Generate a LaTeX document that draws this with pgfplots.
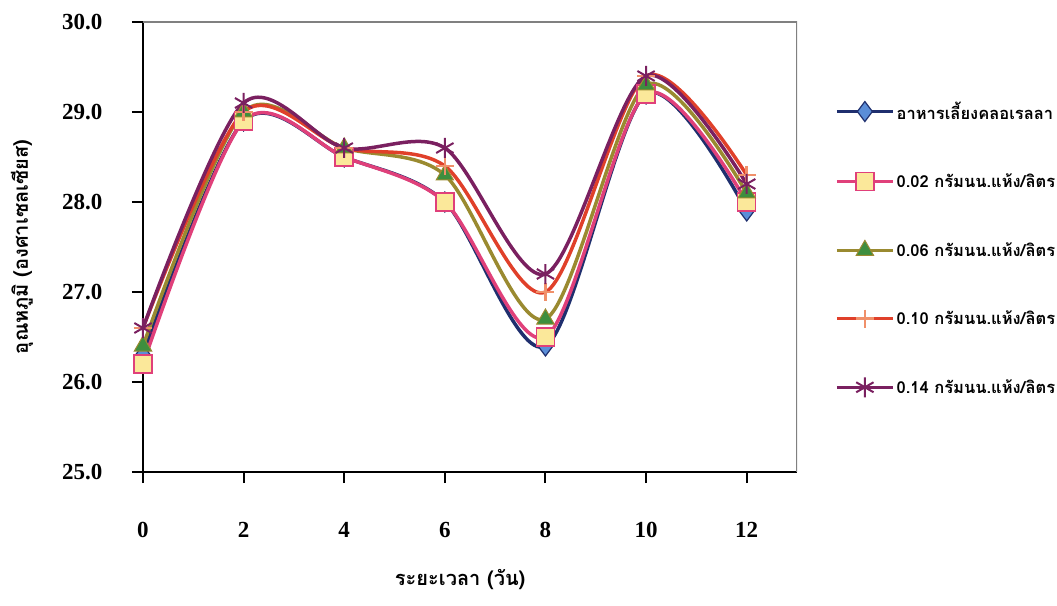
\documentclass[border=0pt]{standalone}
\usepackage{fontspec}
\setmainfont{Liberation Serif}
\newfontfamily\thaifont[Script=Thai]{Loma}
\usepackage{pgfplots}
\pgfplotsset{compat=1.18}
\definecolor{navyl}{HTML}{1F2F6E}
\definecolor{bluef}{HTML}{5B8ED8}
\definecolor{pinkl}{HTML}{E0407A}
\definecolor{yellowf}{HTML}{FBE89A}
\definecolor{olivel}{HTML}{9A8A30}
\definecolor{greenf}{HTML}{3E8E3E}
\definecolor{redl}{HTML}{E0402A}
\definecolor{peach}{HTML}{F0906A}
\definecolor{purplel}{HTML}{7A2060}
\begin{document}
\begin{tikzpicture}
\useasboundingbox (-143pt,-133pt) rectangle (914pt,472pt);
\begin{axis}[
  at={(0,0)}, anchor=south west,
  scale only axis, width=654pt, height=450pt,
  xmin=0, xmax=13, ymin=25, ymax=30,
  xtick={0,2,...,12}, ytick={25,26,...,30},
  axis x line*=bottom, axis y line*=left,
  axis line style={line width=2pt, black},
  tick style={line width=2pt, black},
  tick align=outside, major tick length=11pt,
  /pgf/number format/assume math mode=true,
  yticklabel style={/pgf/number format/fixed, /pgf/number format/fixed zerofill, /pgf/number format/precision=1},
  ticklabel style={font=\bfseries\fontsize{23}{26}\selectfont},
  xticklabel style={yshift=-36pt},
  yticklabel style={xshift=-26pt},
  xlabel={\thaifont\bfseries ระยะเวลา (วัน)},
  ylabel={\thaifont\bfseries อุณหภูมิ (องศาเซลเซียส)},
  label style={font=\fontsize{20}{22}\selectfont},
  xlabel style={at={(rel axis cs:0.485,-0.24)}, anchor=center},
  ylabel style={at={(rel axis cs:-0.185,0.5)}, anchor=center},
  legend image code/.code={\draw[#1, mark repeat=2, mark phase=2] plot coordinates {(0pt,0pt) (28pt,0pt) (56pt,0pt)};},
  legend style={at={(rel axis cs:1.058,0.827)}, anchor=north west, draw=none, fill=none,
    font=\thaifont\bfseries\fontsize{16.5}{19}\selectfont, row sep=49pt, inner sep=0pt,
    cells={anchor=west}},
  every axis plot/.append style={smooth, line width=3.5pt},
]
\draw[gray, line width=1.2pt] (rel axis cs:0,1) -- (rel axis cs:1,1) -- (rel axis cs:1,0);
\addplot[navyl, mark=diamond*, mark size=10pt, mark options={fill=bluef, draw=navyl, line width=1.2pt}]
  coordinates {(0,26.3) (2,28.9) (4,28.5) (6,28.0) (8,26.4) (10,29.2) (12,27.9)};
\addlegendentry{อาหารเลี้ยงคลอเรลลา}
\addplot[pinkl, mark=square*, mark size=9pt, mark options={fill=yellowf, draw=pinkl, line width=1.5pt}]
  coordinates {(0,26.2) (2,28.9) (4,28.5) (6,28.0) (8,26.5) (10,29.2) (12,28.0)};
\addlegendentry{0.02 กรัมนน.แห้ง/ลิตร}
\addplot[olivel, mark=triangle*, mark size=10pt, mark options={fill=greenf, draw=olivel, line width=1pt}]
  coordinates {(0,26.4) (2,29.0) (4,28.6) (6,28.3) (8,26.7) (10,29.3) (12,28.1)};
\addlegendentry{0.06 กรัมนน.แห้ง/ลิตร}
\addplot[redl, mark=+, mark size=9pt, mark options={draw=peach, line width=2.5pt}]
  coordinates {(0,26.6) (2,29.0) (4,28.6) (6,28.4) (8,27.0) (10,29.4) (12,28.3)};
\addlegendentry{0.10 กรัมนน.แห้ง/ลิตร}
\addplot[purplel, mark=asterisk, mark size=10pt, mark options={draw=purplel, line width=2pt}]
  coordinates {(0,26.6) (2,29.1) (4,28.6) (6,28.6) (8,27.2) (10,29.4) (12,28.2)};
\addlegendentry{0.14 กรัมนน.แห้ง/ลิตร}
\end{axis}
\end{tikzpicture}
\end{document}
